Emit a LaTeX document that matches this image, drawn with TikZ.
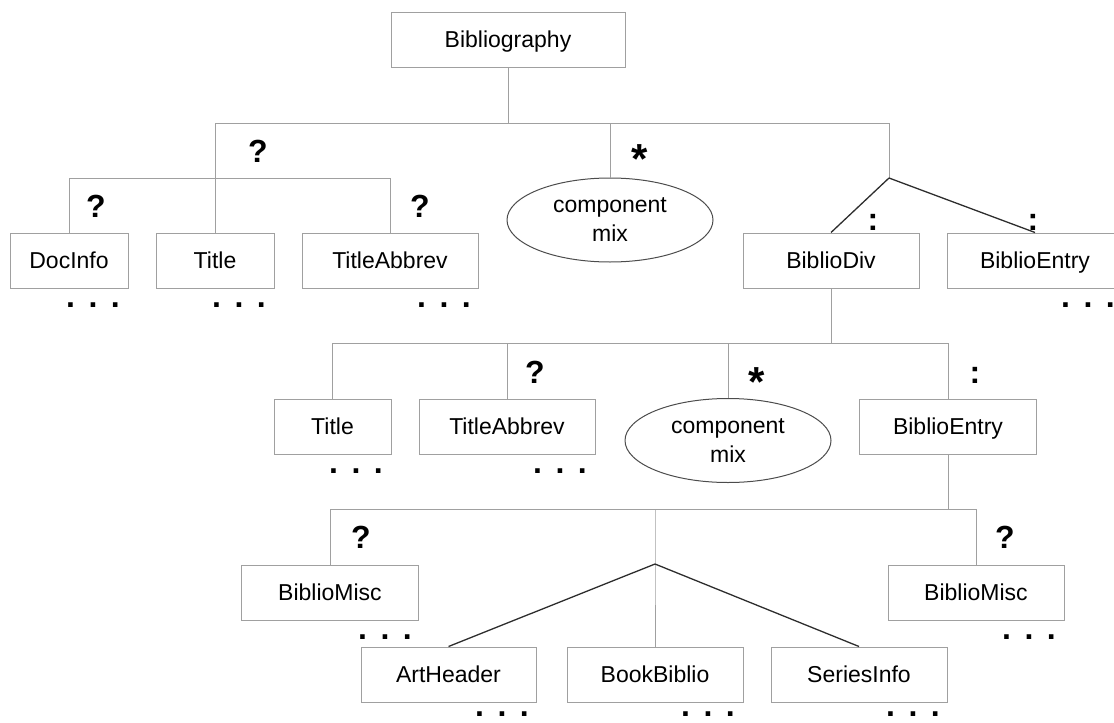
\documentclass[tikz,border=0pt]{standalone}
\usepackage{fontspec}
\setmainfont{Liberation Sans}
\usetikzlibrary{shapes.geometric}
\definecolor{frame}{RGB}{160,160,160}
\definecolor{ink}{RGB}{45,45,45}

\tikzset{
  box/.style={draw=frame,line width=1pt,minimum height=55pt,inner sep=0pt,
    text height=17pt,text depth=2pt,font=\fontsize{23}{28}\selectfont},
  mix/.style={ellipse,draw=ink!85,line width=1pt,minimum width=206pt,minimum height=84pt,
    inner sep=0pt,align=center,font=\fontsize{23}{29}\selectfont},
  tree/.style={draw=frame,line width=1pt},
  fork/.style={draw=ink,line width=1.3pt},
  occ/.style={font=\bfseries\fontsize{32}{32}\selectfont,inner sep=0pt,anchor=base},
  rep/.style={occ,font=\bfseries\fontsize{42}{42}\selectfont}
}

\begin{document}
\begin{tikzpicture}[x=1pt,y=-1pt]
  \clip (0,0) rectangle (1114,723);
  % element boxes
  \foreach \n/\t/\x/\y/\w in {
    biblio/Bibliography/508/39.5/234,
    docinfo/DocInfo/69/260.5/118, titleA/Title/215/260.5/118, abbrevA/TitleAbbrev/390/260.5/176,
    bdiv/BiblioDiv/831/260.5/176, entryA/BiblioEntry/1035/260.5/176,
    titleB/Title/332.5/426.5/117, abbrevB/TitleAbbrev/507/426.5/176, entryB/BiblioEntry/948/426.5/177,
    miscA/BiblioMisc/330/592.5/177, miscB/BiblioMisc/976/592.5/176,
    arthdr/ArtHeader/448.5/674.5/175, bookb/BookBiblio/655/674.5/176, series/SeriesInfo/859/674.5/176}
  {
    \node[box,minimum width=\w pt] (\n) at (\x,\y) {\t};
  }
  \node[mix] (mixA) at (610,220) {component\\mix};
  \node[mix] (mixB) at (728,440.5) {component\\mix};

  % branch points
  \coordinate (top) at (508,123);
  \coordinate (opt) at (215,178);
  \coordinate (sel) at (889,178);
  \coordinate (divbar) at (831,343);
  \coordinate (entbar) at (655,509);
  \coordinate (pick) at (655,564);

  % connectors, first level
  \draw[tree] (biblio) -- (top);
  \draw[tree] (opt |- top) -- (sel |- top);
  \draw[tree] (opt |- top) -- (titleA);
  \draw[tree] (docinfo |- opt) -- (abbrevA |- opt);
  \draw[tree] (docinfo |- opt) -- (docinfo);
  \draw[tree] (abbrevA |- opt) -- (abbrevA);
  \draw[tree] (mixA |- top) -- (mixA);
  \draw[tree] (sel |- top) -- (sel);
  \draw[fork] (sel) -- (bdiv.north);
  \draw[fork] (sel) -- (entryA.north);

  % second level
  \draw[tree] (bdiv) -- (divbar);
  \draw[tree] (titleB |- divbar) -- (entryB |- divbar);
  \draw[tree] (titleB |- divbar) -- (titleB);
  \draw[tree] (abbrevB |- divbar) -- (abbrevB);
  \draw[tree] (mixB |- divbar) -- (mixB);
  \draw[tree] (entryB |- divbar) -- (entryB);

  % third level
  \draw[tree] (entryB) -- (entryB |- entbar);
  \draw[tree] (miscA |- entbar) -- (miscB |- entbar);
  \draw[tree] (miscA |- entbar) -- (miscA);
  \draw[tree] (miscB |- entbar) -- (miscB);
  \draw[tree] (entbar) -- (pick) -- (bookb);
  \draw[fork] (pick) -- (arthdr.north);
  \draw[fork] (pick) -- (series.north);

  % occurrence marks
  \foreach \n/\s/\x/\y in {
    qA/?/258/162, qB/?/96/217, qC/?/420/217,
    colA/:/873/230, colB/:/1033/230,
    qD/?/535/383, colC/:/975/383,
    qE/?/361/548, qF/?/1005/548}
  {
    \node[occ] (\n) at (\x,\y) {\s};
  }
  \node[rep] (starA) at (640,173) {*};
  \node[rep] (starB) at (757,396) {*};

  % elisions
  \foreach \n/\x/\y in {
    moreA/93/307, moreB/239/307, moreC/444/307, moreD/1088/307,
    moreE/356/473, moreF/560/473,
    moreG/385/639, moreH/1029/639,
    moreI/502/716, moreJ/708/716, moreK/913/716}
  {
    \node[occ] (\n) at (\x,\y) {.\hspace{13.5pt}.\hspace{13.5pt}.};
  }
\end{tikzpicture}
\end{document}
